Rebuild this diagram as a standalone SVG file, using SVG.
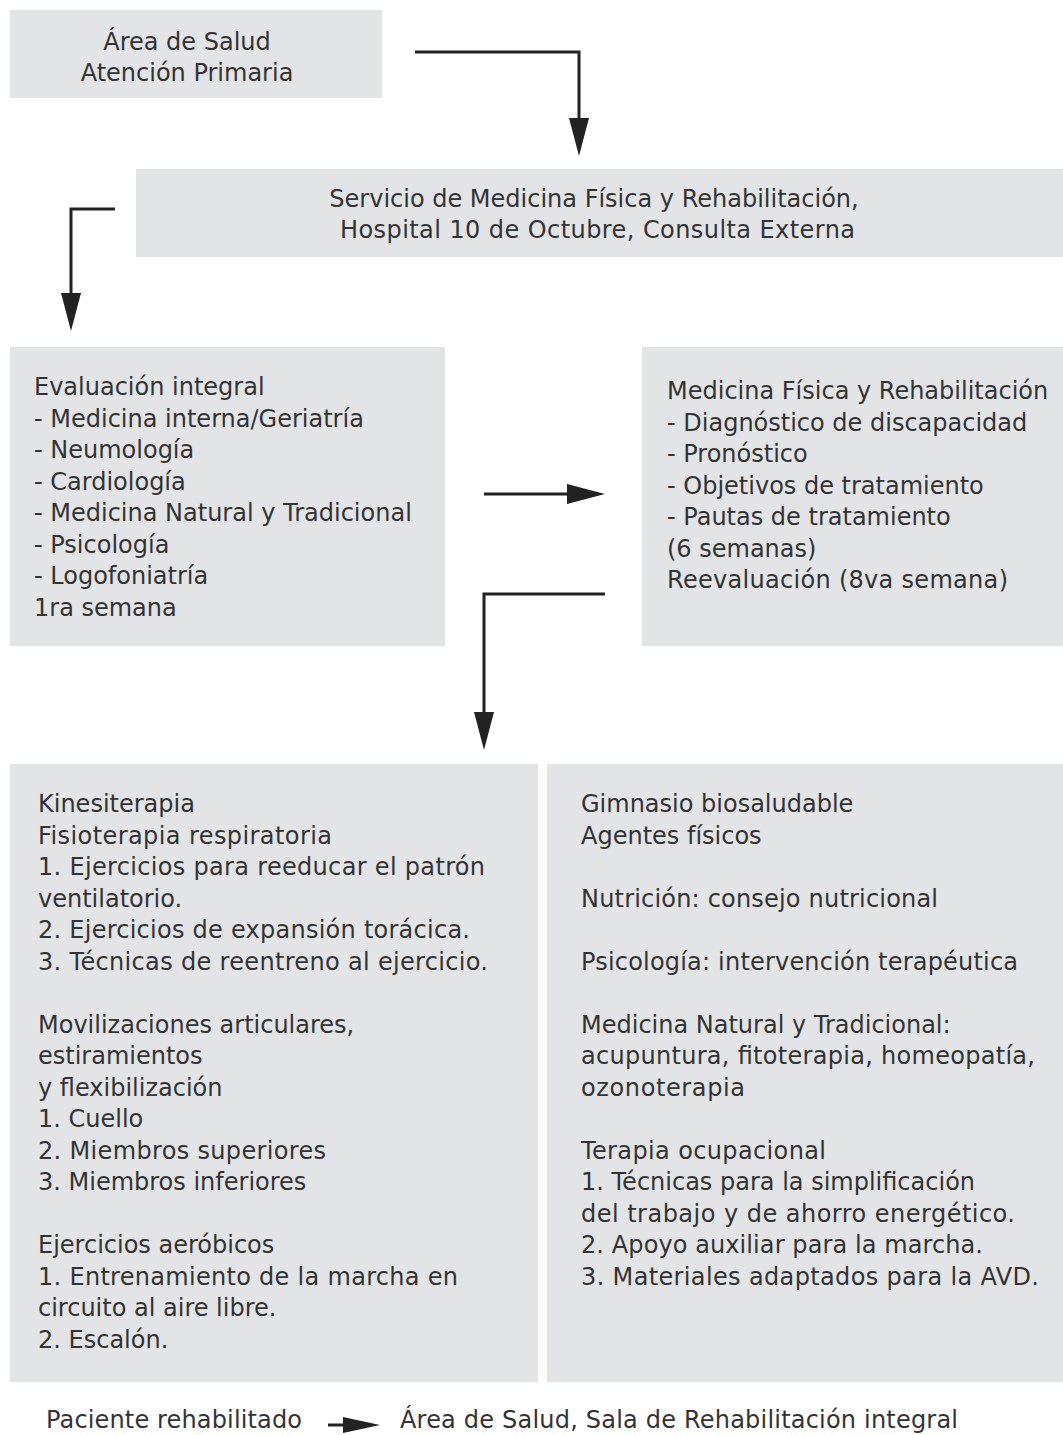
<svg xmlns="http://www.w3.org/2000/svg" width="1063" height="1435" viewBox="0 0 1063 1435">
<defs>
<marker id="ah" markerUnits="userSpaceOnUse" markerWidth="39" markerHeight="21" refX="0" refY="10.5" orient="auto"><path d="M0,0.5 L38,10.5 L0,20.5 z" fill="#222"/></marker>
<marker id="ahs" markerUnits="userSpaceOnUse" markerWidth="38" markerHeight="17" refX="0" refY="8.5" orient="auto"><path d="M0,0.5 L37,8.5 L0,16.5 z" fill="#222"/></marker>
<style>
.box{fill:#e3e4e6}
.t{font-family:"DejaVu Sans",Verdana,sans-serif;font-size:24px;fill:#333}
.c{text-anchor:middle}
.ln{fill:none;stroke:#222;stroke-width:3}
</style>
</defs>
<rect width="1063" height="1435" fill="#fff"/>
<g id="n1"><rect class="box" x="10" y="10" width="372" height="88"/>
<text class="t c" x="187" y="50">Área de Salud</text>
<text class="t c" x="187" y="81">Atención Primaria</text></g>
<g id="n2"><rect class="box" x="136" y="169" width="927" height="88"/>
<text class="t c" x="594" y="207">Servicio de Medicina Física y Rehabilitación,</text>
<text class="t c" x="597.5" y="238" textLength="515" lengthAdjust="spacing">Hospital 10 de Octubre, Consulta Externa</text></g>
<g id="n3"><rect class="box" x="10" y="347" width="435" height="299"/>
<text class="t" x="34" y="395">Evaluación integral</text>
<text class="t" x="34" y="426.5">- Medicina interna/Geriatría</text>
<text class="t" x="34" y="458">- Neumología</text>
<text class="t" x="34" y="489.5">- Cardiología</text>
<text class="t" x="34" y="521">- Medicina Natural y Tradicional</text>
<text class="t" x="34" y="552.5">- Psicología</text>
<text class="t" x="34" y="584">- Logofoniatría</text>
<text class="t" x="34" y="615.5">1ra semana</text></g>
<g id="n4"><rect class="box" x="642" y="347" width="421" height="299"/>
<text class="t" x="667" y="399">Medicina Física y Rehabilitación</text>
<text class="t" x="667" y="430.5">- Diagnóstico de discapacidad</text>
<text class="t" x="667" y="462">- Pronóstico</text>
<text class="t" x="667" y="493.5">- Objetivos de tratamiento</text>
<text class="t" x="667" y="525">- Pautas de tratamiento</text>
<text class="t" x="667" y="556.5">(6 semanas)</text>
<text class="t" x="667" y="588" textLength="341" lengthAdjust="spacing">Reevaluación (8va semana)</text></g>
<g id="n5"><rect class="box" x="10" y="764" width="528" height="618"/>
<text class="t" x="38" y="812">Kinesiterapia</text>
<text class="t" x="38" y="843.5" textLength="294" lengthAdjust="spacing">Fisioterapia respiratoria</text>
<text class="t" x="38" y="875" textLength="447" lengthAdjust="spacing">1. Ejercicios para reeducar el patrón</text>
<text class="t" x="38" y="906.5">ventilatorio.</text>
<text class="t" x="38" y="938" textLength="432" lengthAdjust="spacing">2. Ejercicios de expansión torácica.</text>
<text class="t" x="38" y="969.5" textLength="450" lengthAdjust="spacing">3. Técnicas de reentreno al ejercicio.</text>
<text class="t" x="38" y="1032.5">Movilizaciones articulares,</text>
<text class="t" x="38" y="1064">estiramientos</text>
<text class="t" x="38" y="1095.5">y flexibilización</text>
<text class="t" x="38" y="1127">1. Cuello</text>
<text class="t" x="38" y="1158.5" textLength="288" lengthAdjust="spacing">2. Miembros superiores</text>
<text class="t" x="38" y="1190">3. Miembros inferiores</text>
<text class="t" x="38" y="1253">Ejercicios aeróbicos</text>
<text class="t" x="38" y="1284.5" textLength="420" lengthAdjust="spacing">1. Entrenamiento de la marcha en</text>
<text class="t" x="38" y="1316">circuito al aire libre.</text>
<text class="t" x="38" y="1347.5">2. Escalón.</text></g>
<g id="n6"><rect class="box" x="547" y="764" width="516" height="618"/>
<text class="t" x="581" y="812">Gimnasio biosaludable</text>
<text class="t" x="581" y="843.5">Agentes físicos</text>
<text class="t" x="581" y="906.5" textLength="357" lengthAdjust="spacing">Nutrición: consejo nutricional</text>
<text class="t" x="581" y="969.5" textLength="437" lengthAdjust="spacing">Psicología: intervención terapéutica</text>
<text class="t" x="581" y="1032.5">Medicina Natural y Tradicional:</text>
<text class="t" x="581" y="1064" textLength="454" lengthAdjust="spacing">acupuntura, fitoterapia, homeopatía,</text>
<text class="t" x="581" y="1095.5" textLength="164" lengthAdjust="spacing">ozonoterapia</text>
<text class="t" x="581" y="1158.5" textLength="245" lengthAdjust="spacing">Terapia ocupacional</text>
<text class="t" x="581" y="1190">1. Técnicas para la simplificación</text>
<text class="t" x="581" y="1221.5" textLength="434" lengthAdjust="spacing">del trabajo y de ahorro energético.</text>
<text class="t" x="581" y="1253" textLength="402" lengthAdjust="spacing">2. Apoyo auxiliar para la marcha.</text>
<text class="t" x="581" y="1284.5" textLength="458" lengthAdjust="spacing">3. Materiales adaptados para la AVD.</text></g>
<g id="n7"><text class="t" x="46" y="1428" textLength="256" lengthAdjust="spacing">Paciente rehabilitado</text></g>
<g id="n8"><text class="t" x="400" y="1428" textLength="558" lengthAdjust="spacing">Área de Salud, Sala de Rehabilitación integral</text></g>
<g id="connectors">
<path class="ln" d="M415,52 H579 V118" marker-end="url(#ah)"/>
<path class="ln" d="M115,209 H71 V293" marker-end="url(#ah)"/>
<path class="ln" d="M484,494 H567" marker-end="url(#ah)"/>
<path class="ln" d="M605,594 H484 V712" marker-end="url(#ah)"/>
<path class="ln" d="M328,1425 H343" marker-end="url(#ahs)"/>
</g>
</svg>
